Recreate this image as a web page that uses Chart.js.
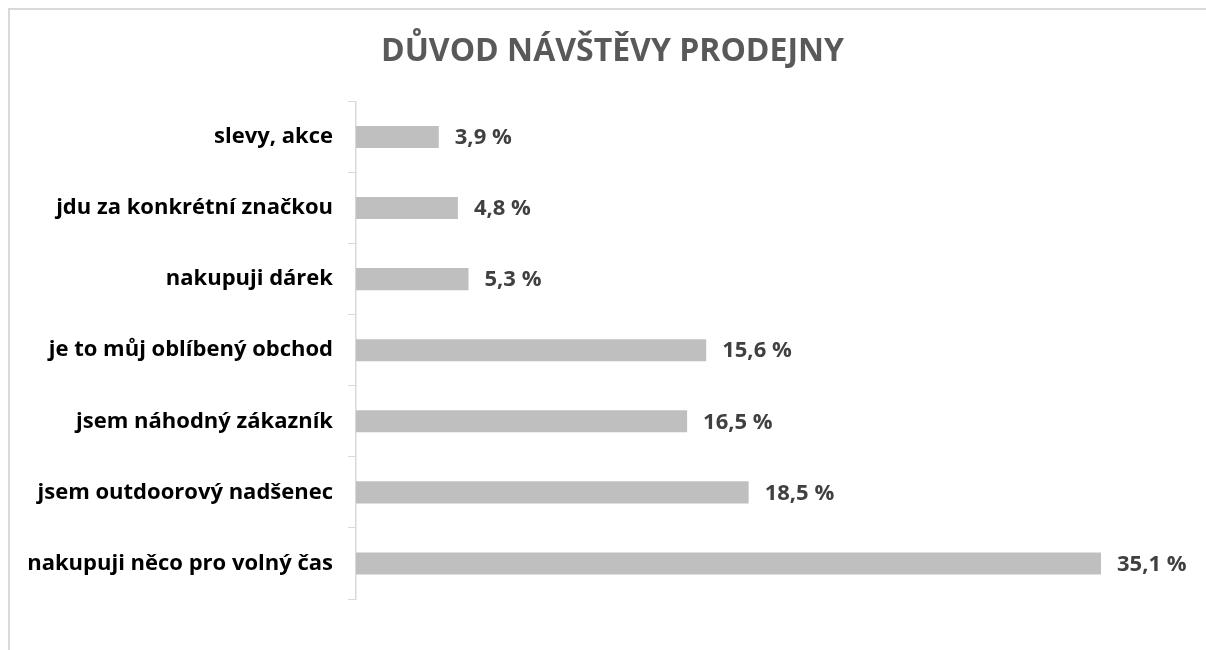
<!DOCTYPE html>
<html>
<head>
<meta charset="utf-8">
<script src="https://cdn.jsdelivr.net/npm/chart.js@4/dist/chart.umd.min.js"></script>
<style>
  html, body { margin: 0; padding: 0; background: #fff; overflow: hidden; }
  #frame { position: absolute; left: 8px; top: 8px; width: 1300px; height: 700px; border: 2px solid #d9d9d9; box-sizing: border-box; }
  #wrap { position: absolute; left: 0; top: 0; width: 1206px; height: 650px; }
</style>
</head>
<body>
<div id="frame"></div>
<div id="wrap"><canvas id="myChart"></canvas></div>
<script>
// categories, top to bottom
var categories = [
    'slevy, akce',
    'jdu za konkrétní značkou',
    'nakupuji dárek',
    'je to můj oblíbený obchod',
    'jsem náhodný zákazník',
    'jsem outdoorový nadšenec',
    'nakupuji něco pro volný čas'
];
// bar lengths as drawn in the picture (%)
var values = [3.9, 4.8, 5.3, 16.5, 15.6, 18.5, 35.1];
// data labels as printed next to the bars
var valueLabels = ['3,9 %', '4,8 %', '5,3 %', '15,6 %', '16,5 %', '18,5 %', '35,1 %'];

var fontFam = '"Open Sans", sans-serif';

// draws the value text right of each bar
var barLabels = {
    id: 'barLabels',
    afterDatasetsDraw: function (chart) {
        var ctx = chart.ctx;
        var meta = chart.getDatasetMeta(0);
        ctx.save();
        ctx.font = 'bold 22px ' + fontFam;
        ctx.fillStyle = '#404040';
        ctx.textAlign = 'left';
        ctx.textBaseline = 'middle';
        meta.data.forEach(function (bar, i) {
            ctx.fillText(valueLabels[i], bar.x + 16, bar.y + 1);
        });
        ctx.restore();
    }
};

let myChart = document.getElementById('myChart').getContext('2d');

let reasonChart = new Chart(myChart, {
    type: 'bar',
    data: {
        labels: categories,
        datasets: [{
            data: values,
            backgroundColor: '#bfbfbf',
            barPercentage: 0.62,
            categoryPercentage: 0.5
        }]
    },
    options: {
        indexAxis: 'y',
        responsive: true,
        maintainAspectRatio: false,
        animation: false,
        layout: {
            padding: { top: 0, right: 1, bottom: 51, left: 20 }
        },
        scales: {
            x: {
                display: false,
                min: 0,
                max: 40
            },
            y: {
                afterFit: function (scale) { scale.width = 336; },
                grid: {
                    drawOnChartArea: false,
                    drawTicks: true,
                    tickLength: 8,
                    color: '#d9d9d9'
                },
                border: { display: true, color: '#d9d9d9', width: 1.5 },
                ticks: {
                    color: '#000',
                    padding: 15,
                    font: { family: fontFam, size: 22, weight: 'bold' }
                }
            }
        },
        plugins: {
            legend: { display: false },
            tooltip: { enabled: false },
            title: {
                display: true,
                text: 'DŮVOD NÁVŠTĚVY PRODEJNY',
                color: '#595959',
                font: { family: fontFam, size: 32, weight: 'bold' },
                padding: { top: 33, bottom: 30 }
            }
        }
    },
    plugins: [barLabels]
});
</script>
</body>
</html>
